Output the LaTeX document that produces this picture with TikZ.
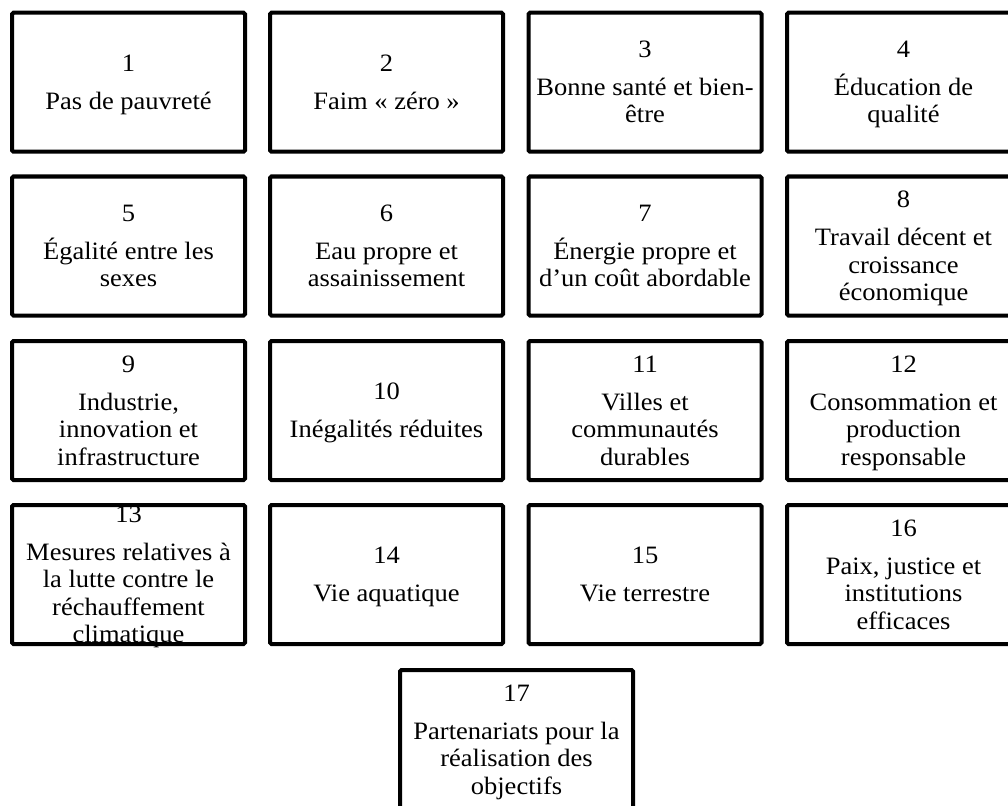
\documentclass[tikz,border=0pt]{standalone}
\usepackage{fontspec}
\setmainfont[FakeStretch=1.06]{Liberation Serif}
\newcommand\goalnum[1]{\rule{0pt}{19pt}#1}
\newcommand\goallast[1]{\smash{#1}\rule[-3pt]{0pt}{3pt}}
\begin{document}
\begin{tikzpicture}[x=1pt,y=-1pt,
  goalbox/.style={draw=black, line width=4pt, rounded corners=1.5pt,
    minimum width=233pt, minimum height=139pt, inner sep=0pt},
  goaltxt/.style={align=center, inner sep=0pt,
    font=\fontsize{25}{27.5}\selectfont}]
\useasboundingbox (0,0) rectangle (1008,805);
% centres
\coordinate (c1) at (128.5,82.25);
\coordinate (c2) at (386.5,82.25);
\coordinate (c3) at (645,82.25);
\coordinate (c4) at (903.5,82.25);
\coordinate (c5) at (128.5,246);
\coordinate (c6) at (386.5,246);
\coordinate (c7) at (645,246);
\coordinate (c8) at (903.5,246);
\coordinate (c9) at (128.5,410.5);
\coordinate (c10) at (386.5,410.5);
\coordinate (c11) at (645,410.5);
\coordinate (c12) at (903.5,410.5);
\coordinate (c13) at (128.5,574.5);
\coordinate (c14) at (386.5,574.5);
\coordinate (c15) at (645,574.5);
\coordinate (c16) at (903.5,574.5);
\coordinate (c17) at (516.5,739.5);
% texts
\node[goaltxt] (t1) at (c1) {\goalnum{1}\\[10.5pt]\goallast{Pas de pauvreté}};
\node[goaltxt] (t2) at (c2) {\goalnum{2}\\[10.5pt]\goallast{Faim « zéro »}};
\node[goaltxt] (t3) at (c3) {\goalnum{3}\\[10.5pt]Bonne santé et bien-\\\goallast{être}};
\node[goaltxt] (t4) at (c4) {\goalnum{4}\\[10.5pt]Éducation de\\\goallast{qualité}};
\node[goaltxt] (t5) at (c5) {\goalnum{5}\\[10.5pt]Égalité entre les\\\goallast{sexes}};
\node[goaltxt] (t6) at (c6) {\goalnum{6}\\[10.5pt]Eau propre et\\\goallast{assainissement}};
\node[goaltxt] (t7) at (c7) {\goalnum{7}\\[10.5pt]Énergie propre et\\\goallast{d’un coût abordable}};
\node[goaltxt] (t8) at (c8) {\goalnum{8}\\[10.5pt]Travail décent et\\croissance\\\goallast{économique}};
\node[goaltxt] (t9) at (c9) {\goalnum{9}\\[10.5pt]Industrie,\\innovation et\\\goallast{infrastructure}};
\node[goaltxt] (t10) at (c10) {\goalnum{10}\\[10.5pt]\goallast{Inégalités réduites}};
\node[goaltxt] (t11) at (c11) {\goalnum{11}\\[10.5pt]Villes et\\communautés\\\goallast{durables}};
\node[goaltxt] (t12) at (c12) {\goalnum{12}\\[10.5pt]Consommation et\\production\\\goallast{responsable}};
\node[goaltxt] (t13) at (c13) {\goalnum{13}\\[10.5pt]Mesures relatives à\\la lutte contre le\\réchauffement\\\goallast{climatique}};
\node[goaltxt] (t14) at (c14) {\goalnum{14}\\[10.5pt]\goallast{Vie aquatique}};
\node[goaltxt] (t15) at (c15) {\goalnum{15}\\[10.5pt]\goallast{Vie terrestre}};
\node[goaltxt] (t16) at (c16) {\goalnum{16}\\[10.5pt]Paix, justice et\\institutions\\\goallast{efficaces}};
\node[goaltxt] (t17) at (c17) {\goalnum{17}\\[10.5pt]Partenariats pour la\\réalisation des\\\goallast{objectifs}};
% boxes
\foreach \i in {1,...,17}{
  \node[goalbox] (b\i) at (c\i) {};
}
\end{tikzpicture}
\end{document}
